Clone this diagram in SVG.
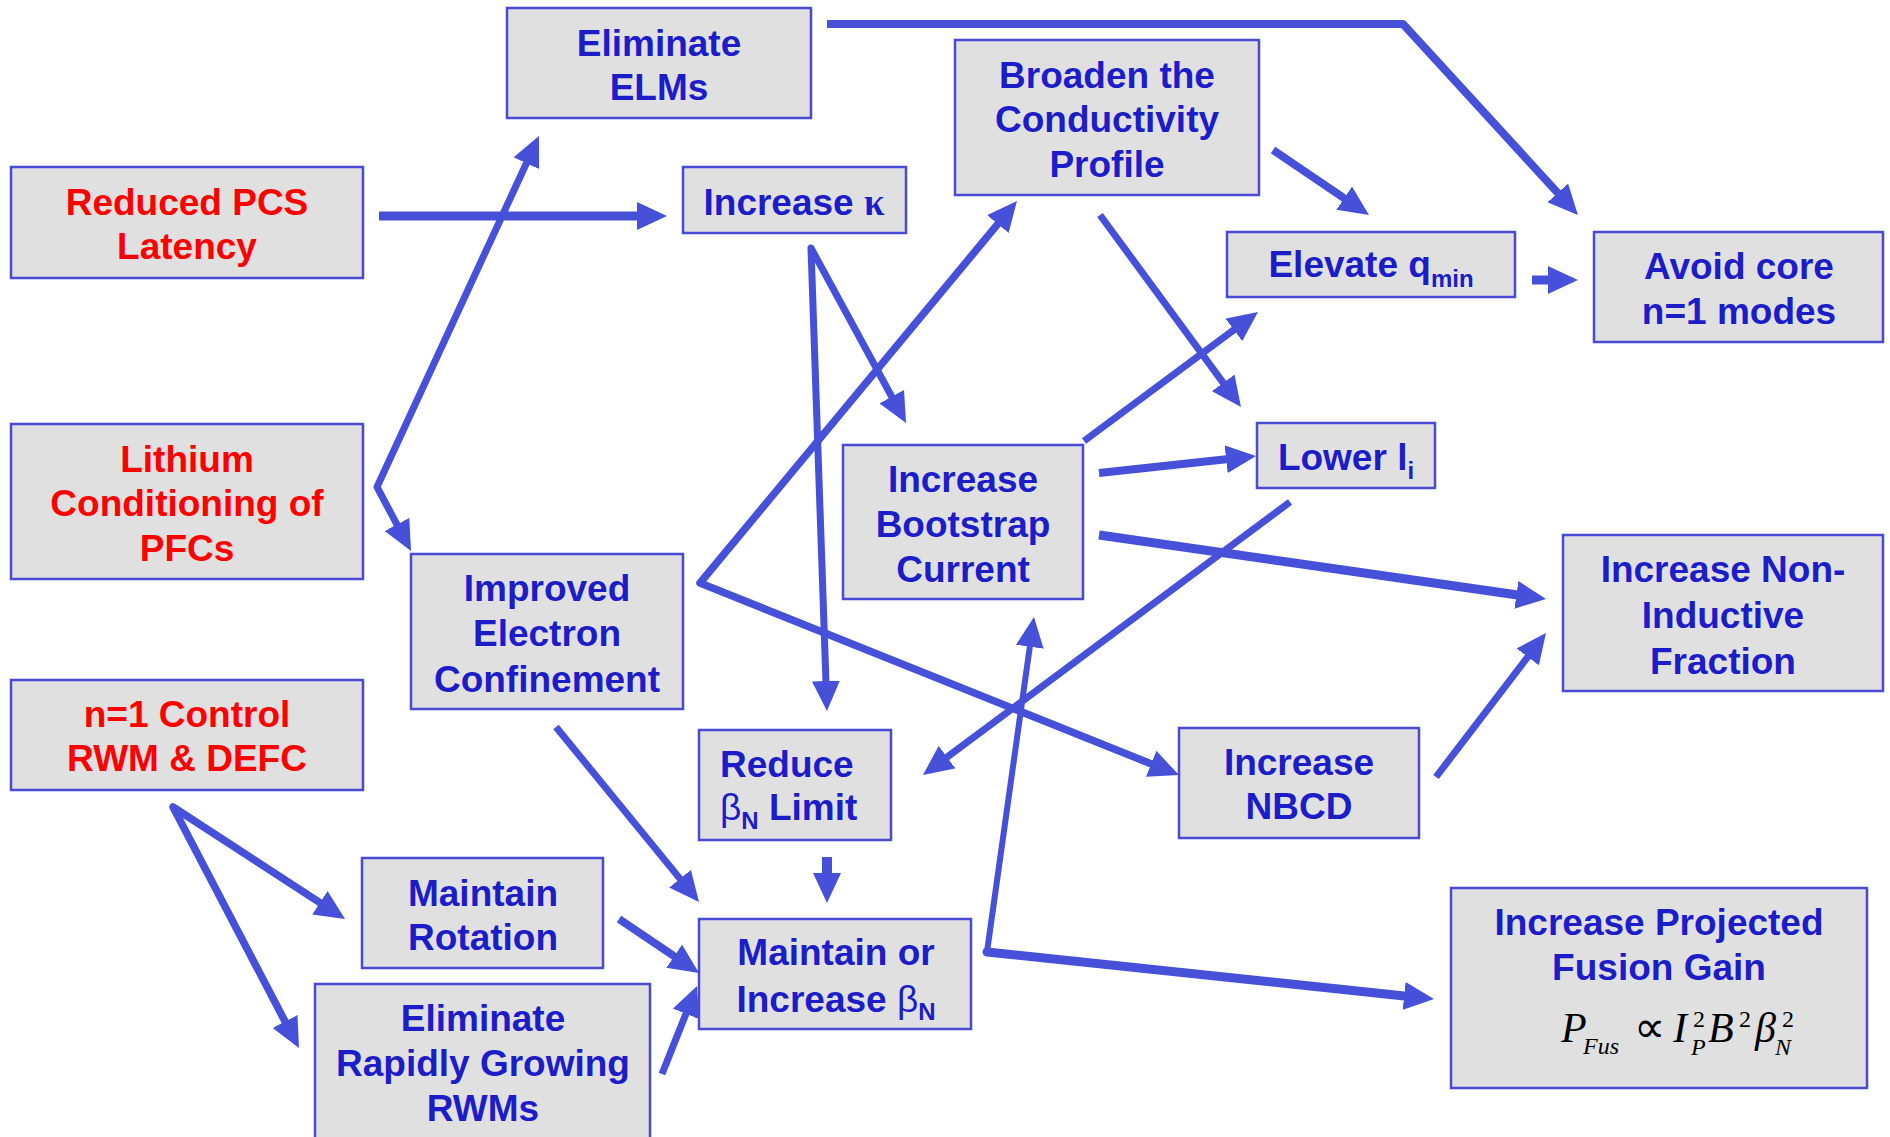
<svg xmlns="http://www.w3.org/2000/svg" width="1890" height="1137" viewBox="0 0 1890 1137">
<style>
.box{fill:#e0e0e0;stroke:#4a4ad6;stroke-width:2.5}
.t{font-family:"Liberation Sans",Arial,sans-serif;font-weight:bold;font-size:37px;fill:#1c1cc8;text-anchor:middle}
.ts{text-anchor:start}
.r{fill:#ff0000}
.sub{font-size:24px}
.g{font-weight:normal}
.c{fill:none;stroke:#4650d8;stroke-linejoin:round;marker-end:url(#ah)}
.s{marker-start:url(#ah)}
.m{font-family:"Liberation Serif","Times New Roman",serif;font-style:italic;fill:#000}
</style>
<defs>
<marker id="ah" markerUnits="userSpaceOnUse" markerWidth="30" markerHeight="28" refX="5" refY="14" orient="auto-start-reverse" viewBox="0 0 30 28"><path d="M0,0 L30,14 L0,28 z" fill="#4650d8"/></marker>
</defs>
<rect width="1890" height="1137" fill="#fff"/>

<g id="connectors">
<path class="c" stroke-width="8" d="M827,24 L1403,24 L1561.1,196.6"/>
<path class="c" stroke-width="9" d="M379,216 L642,216"/>
<path class="c s" stroke-width="7" d="M528.5,158.7 L377,487 L399.3,528.9"/>
<path class="c s" stroke-width="7" d="M826.1,686 L811,248 L894.1,401"/>
<path class="c s" stroke-width="7.5" d="M1001,220.2 L700,583 L1155.8,765.7"/>
<path class="c" stroke-width="8" d="M1273,150 L1348.3,201"/>
<path class="c" stroke-width="7" d="M1100,215 L1226.2,386.9"/>
<path class="c" stroke-width="9" d="M1532,280 L1553,280"/>
<path class="c" stroke-width="7" d="M1084,441 L1237.9,326.9"/>
<path class="c" stroke-width="8" d="M1099,473 L1231.1,458.7"/>
<path class="c" stroke-width="9" d="M1099,535 L1521.3,595.5"/>
<path class="c" stroke-width="7" d="M1290,502 L943,760.1"/>
<path class="c" stroke-width="7" d="M1436,777 L1530.8,652.9"/>
<path class="c" stroke-width="6" stroke-linecap="round" d="M987,952 L1030.5,641.8"/>
<path class="c" stroke-width="9" stroke-linecap="round" d="M987,952 L1409.1,996.4"/>
<path class="c" stroke-width="7" d="M556,727 L683.2,882.6"/>
<path class="c" stroke-width="10" d="M827,857 L827,878"/>
<path class="c" stroke-width="8" d="M619,919 L678.3,959"/>
<path class="c" stroke-width="7" d="M662,1074 L687.8,1009.2"/>
<path class="c s" stroke-width="7.5" d="M324.1,905.4 L173,807 L287.4,1025.9"/>
</g>

<g id="eliminate-elms"><rect class="box" x="507" y="8" width="304" height="110"/>
<text class="t" x="659" y="56">Eliminate</text><text class="t" x="659" y="100">ELMs</text></g>

<g id="reduced-pcs-latency"><rect class="box" x="11" y="167" width="352" height="111"/>
<text class="t r" x="187" y="215">Reduced PCS</text><text class="t r" x="187" y="259">Latency</text></g>

<g id="increase-kappa"><rect class="box" x="683" y="167" width="223" height="66"/>
<text class="t" x="794" y="215">Increase <tspan font-family="Liberation Serif,serif">κ</tspan></text></g>

<g id="broaden-conductivity"><rect class="box" x="955" y="40" width="304" height="155"/>
<text class="t" x="1107" y="88">Broaden the</text><text class="t" x="1107" y="132">Conductivity</text><text class="t" x="1107" y="177">Profile</text></g>

<g id="elevate-qmin"><rect class="box" x="1227" y="232" width="288" height="65"/>
<text class="t" x="1371" y="277">Elevate q<tspan class="sub" dy="10">min</tspan></text></g>

<g id="avoid-core"><rect class="box" x="1594" y="232" width="289" height="110"/>
<text class="t" x="1739" y="279">Avoid core</text><text class="t" x="1739" y="324">n=1 modes</text></g>

<g id="lithium"><rect class="box" x="11" y="424" width="352" height="155"/>
<text class="t r" x="187" y="472">Lithium</text><text class="t r" x="187" y="516">Conditioning of</text><text class="t r" x="187" y="561">PFCs</text></g>

<g id="lower-li"><rect class="box" x="1257" y="423" width="178" height="65"/>
<text class="t" x="1346" y="470">Lower l<tspan class="sub" dy="9">i</tspan></text></g>

<g id="bootstrap"><rect class="box" x="843" y="445" width="240" height="154"/>
<text class="t" x="963" y="492">Increase</text><text class="t" x="963" y="537">Bootstrap</text><text class="t" x="963" y="582">Current</text></g>

<g id="non-inductive"><rect class="box" x="1563" y="535" width="320" height="156"/>
<text class="t" x="1723" y="582">Increase Non-</text><text class="t" x="1723" y="628">Inductive</text><text class="t" x="1723" y="674">Fraction</text></g>

<g id="improved-electron"><rect class="box" x="411" y="554" width="272" height="155"/>
<text class="t" x="547" y="601">Improved</text><text class="t" x="547" y="646">Electron</text><text class="t" x="547" y="692">Confinement</text></g>

<g id="n1-control"><rect class="box" x="11" y="680" width="352" height="110"/>
<text class="t r" x="187" y="727">n=1 Control</text><text class="t r" x="187" y="771">RWM &amp; DEFC</text></g>

<g id="reduce-betan"><rect class="box" x="699" y="730" width="192" height="110"/>
<text class="t ts" x="720" y="777">Reduce</text>
<text class="t ts" x="720" y="820"><tspan class="g">β</tspan><tspan class="sub" dy="9">N</tspan><tspan dy="-9"> Limit</tspan></text></g>

<g id="increase-nbcd"><rect class="box" x="1179" y="728" width="240" height="110"/>
<text class="t" x="1299" y="775">Increase</text><text class="t" x="1299" y="819">NBCD</text></g>

<g id="maintain-rotation"><rect class="box" x="362" y="858" width="241" height="110"/>
<text class="t" x="483" y="906">Maintain</text><text class="t" x="483" y="950">Rotation</text></g>

<g id="maintain-betan"><rect class="box" x="699" y="919" width="272" height="110"/>
<text class="t" x="836" y="965">Maintain or</text>
<text class="t" x="836" y="1012">Increase <tspan class="g">β</tspan><tspan class="sub" dy="8">N</tspan></text></g>

<g id="fusion-gain"><rect class="box" x="1451" y="888" width="416" height="200"/>
<text class="t" x="1659" y="935">Increase Projected</text><text class="t" x="1659" y="980">Fusion Gain</text>
<text class="m" font-size="42"><tspan x="1561" y="1042">P</tspan><tspan x="1583" y="1054" font-size="24">Fus</tspan><tspan x="1634" y="1042" font-style="normal" font-size="44">∝</tspan><tspan x="1673" y="1042">I</tspan><tspan x="1693" y="1027" font-style="normal" font-size="24">2</tspan><tspan x="1691" y="1055" font-size="24">P</tspan><tspan x="1708" y="1042">B</tspan><tspan x="1739" y="1027" font-style="normal" font-size="24">2</tspan><tspan x="1755" y="1042">β</tspan><tspan x="1782" y="1027" font-style="normal" font-size="24">2</tspan><tspan x="1775" y="1055" font-size="24">N</tspan></text></g>

<g id="eliminate-rwms"><rect class="box" x="315" y="984" width="335" height="160"/>
<text class="t" x="483" y="1031">Eliminate</text><text class="t" x="483" y="1076">Rapidly Growing</text><text class="t" x="483" y="1121">RWMs</text></g>
</svg>
